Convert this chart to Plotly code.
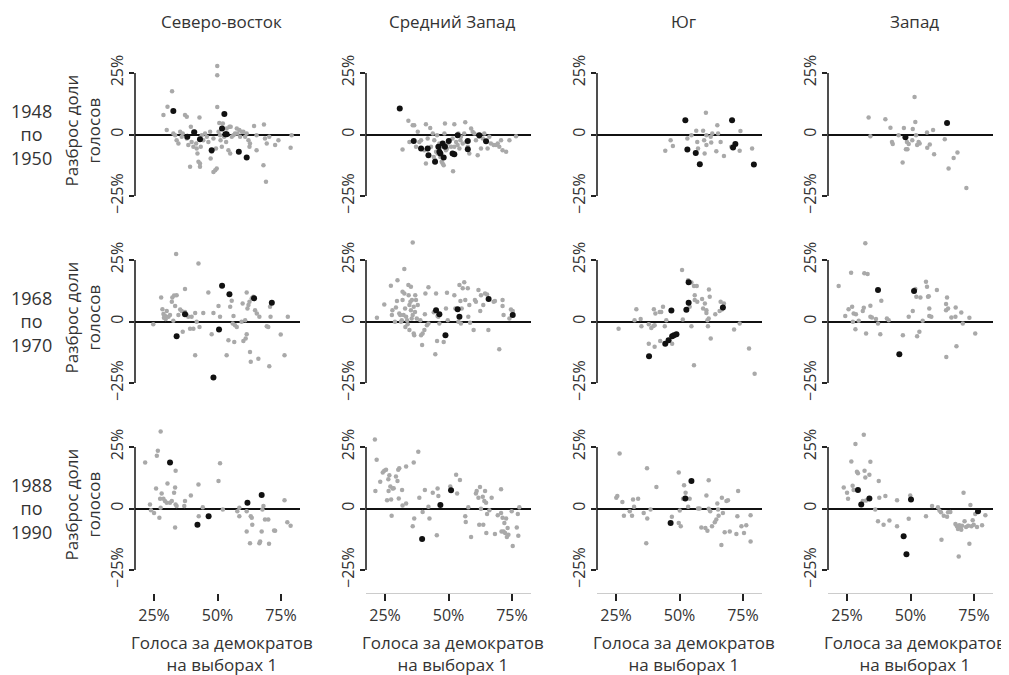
import plotly.graph_objects as go
from plotly.subplots import make_subplots

# ---------------- data (x = Dem vote share at election 1, %, y = swing, %) ----------------
regions = ["Северо-восток", "Средний Запад", "Юг", "Запад"]
periods = ["1948<br>по<br>1950", "1968<br>по<br>1970", "1988<br>по<br>1990"]
x_ticks = [25, 50, 75]
x_tick_text = ["25%", "50%", "75%"]
y_ticks = [-25, 0, 25]
y_tick_text = ["−25%", "0", "25%"]

ne48_gray = [(28.7,7.9),(30.3,11.3),(32.1,17.6),(30.0,1.8),(32.6,0.4),(33.3,-0.3),(33.9,-2.3),(34.6,-3.7),(35.3,1.1),(35.9,-0.9),(36.3,0.4),(37.2,7.9),(37.9,7.2),(37.9,-1.6),(38.5,-4.3),(39.2,-13.1),(39.5,3.1),(39.8,-3.0),(40.5,-5.0),(41.2,1.1),(41.6,-3.7),(41.8,-5.7),(42.1,-7.7),(42.5,-11.1),(42.9,6.9),(43.1,-11.8),(43.1,-13.1),(43.4,-5.0),(43.8,-0.3),(44.4,-2.3),(45.1,0.4),(45.8,-0.9),(46.4,-3.0),(47.1,1.1),(47.3,-9.8),(47.7,-7.0),(48.4,-1.6),(48.4,-15.2),(49.1,-14.5),(49.7,-13.8),(49.4,-5.7),(49.9,27.8),(49.9,24.1),(49.9,11.2),(50.4,1.1),(50.7,4.7),(51.0,-0.3),(51.2,-2.3),(51.7,-5.0),(52.1,4.5),(52.6,-0.9),(53.4,-3.0),(53.6,2.4),(54.3,-6.4),(54.7,3.1),(55.0,-7.7),(55.2,3.1),(55.6,-0.9),(56.3,-0.3),(56.9,0.4),(57.6,2.4),(57.8,0.4),(58.6,1.8),(58.9,-0.9),(59.5,1.1),(60.2,1.1),(60.9,-0.9),(61.5,0.4),(62.2,-2.3),(62.6,-5.0),(62.8,-3.7),(64.4,3.5),(65.4,-0.3),(65.4,-6.4),(68.1,-12.5),(68.3,4.1),(68.7,-1.6),(69.1,-19.2),(69.4,-3.7),(70.4,-0.9),(72.7,-4.3),(74.0,-2.3),(79.2,-0.3),(78.8,-5.4)]
ne48_black = [(32.6,9.5),(38.1,-0.9),(40.8,0.9),(43.1,-1.9),(47.7,-6.4),(51.8,2.4),(52.7,8.3),(53.1,0.1),(53.6,0.1),(58.4,-7.0),(61.5,-9.3)]

mw48_gray = [(31.9,-6.1),(34.2,5.6),(35.9,3.8),(36.5,3.8),(34.6,-3.0),(37.9,1.1),(37.2,-5.0),(38.5,-3.0),(39.2,-2.3),(40.5,-6.4),(41.1,4.2),(41.1,-11.8),(41.8,-1.6),(42.8,2.6),(43.1,-5.0),(43.8,0.4),(44.2,-9.1),(44.4,-2.3),(44.7,-10.4),(45.1,-7.0),(45.5,-0.3),(45.7,-7.7),(46.4,-3.7),(46.8,-9.1),(47.0,-5.0),(47.3,-11.1),(47.7,-11.8),(48.1,-12.5),(48.4,0.4),(48.6,4.5),(49.0,-6.4),(49.4,-5.7),(49.7,-3.7),(50.3,-2.3),(51.0,-5.0),(51.6,-1.6),(51.8,-14.9),(52.3,4.2),(52.3,-5.0),(53.0,-3.0),(53.6,-4.3),(53.9,0.4),(54.3,-5.7),(54.7,-2.3),(54.9,-0.9),(55.6,-3.7),(56.2,0.4),(56.6,5.0),(56.9,-3.0),(57.6,-5.0),(58.2,-7.7),(58.9,2.4),(59.5,1.1),(60.2,0.4),(60.8,-2.3),(61.5,-8.4),(62.1,-0.9),(62.8,-5.7),(63.5,-1.6),(64.1,0.4),(65.4,-5.7),(66.1,-0.9),(66.7,-3.7),(67.8,-4.3),(68.7,-4.3),(69.4,-3.7),(70.0,-5.0),(70.7,-2.3),(71.3,-6.4),(72.7,-7.0),(74.0,-2.3),(76.6,-0.7)]
mw48_black = [(30.8,10.6),(36.3,-2.6),(39.2,-5.7),(41.8,-5.7),(42.1,-8.4),(44.7,-11.1),(46.0,-5.0),(46.4,-7.0),(46.8,-7.7),(47.7,-3.7),(48.1,-9.3),(48.6,-5.0),(50.1,-2.6),(51.6,-7.7),(52.3,-8.0),(53.6,-0.3),(57.6,-2.6),(57.6,-6.0),(62.1,-0.3),(64.8,-2.7)]

so48_gray = [(44.4,-6.6),(46.5,-2.3),(47.4,-4.7),(53.1,-1.6),(54.7,-0.3),(56.6,1.5),(57.0,-3.0),(57.3,-5.7),(59.3,1.5),(59.7,-2.3),(59.9,-7.7),(60.4,8.8),(60.6,-0.3),(60.6,-4.3),(62.3,-0.9),(62.5,-3.3),(62.9,0.4),(64.5,-6.8),(64.9,3.8),(65.2,0.4),(66.2,-3.0),(67.5,-8.7),(70.4,-5.0),(73.7,-6.6),(74.0,1.4),(78.6,-5.7)]
so48_black = [(52.3,5.8),(53.1,-6.1),(56.4,-7.5),(58.0,-12.1),(70.7,5.8),(71.1,-5.3),(72.0,-3.9),(79.3,-12.2)]

we48_gray = [(33.5,6.9),(34.2,-0.7),(40.1,6.2),(42.1,2.7),(42.7,-3.0),(43.0,-3.9),(45.3,-0.3),(46.9,-11.4),(47.4,2.6),(48.2,-6.0),(48.6,-3.0),(48.8,-6.0),(49.3,-3.9),(50.7,-2.3),(50.9,2.2),(51.6,15.2),(51.9,5.1),(52.2,-0.3),(52.6,-4.3),(53.2,-3.0),(53.6,-3.7),(56.5,0.8),(56.6,-5.4),(57.6,-4.1),(58.9,1.8),(59.3,-8.0),(63.5,-1.9),(65.0,-13.8),(67.0,-9.5),(68.5,-7.3),(72.0,-21.7)]
we48_black = [(48.0,-1.1),(64.4,4.7)]

ne68_gray = [(24.7,-1.1),(27.8,9.8),(28.3,5.0),(28.7,3.0),(28.9,1.5),(29.3,2.3),(29.6,1.0),(30.0,4.3),(30.7,1.9),(31.3,2.6),(32.0,8.0),(32.2,9.8),(32.6,0.3),(32.9,10.6),(33.3,6.3),(33.7,27.4),(33.9,10.7),(34.6,2.6),(35.3,4.9),(35.9,4.3),(36.3,-4.2),(37.2,13.2),(37.2,3.9),(37.9,2.6),(38.5,1.9),(39.2,-2.9),(39.8,1.9),(40.5,-2.9),(41.2,-13.7),(41.2,3.5),(41.8,-0.1),(42.5,23.6),(42.9,-2.2),(44.4,3.5),(46.4,11.8),(47.7,-5.2),(48.4,3.5),(50.4,6.3),(51.0,1.9),(53.6,-13.7),(54.3,-7.6),(55.0,6.0),(55.6,8.4),(56.0,-0.8),(56.3,2.2),(56.6,-8.3),(56.9,-1.5),(57.6,-2.2),(59.5,-0.1),(59.9,7.3),(60.2,-7.9),(60.9,0.5),(61.1,-6.9),(61.5,11.8),(61.5,-5.2),(61.8,5.3),(62.2,6.7),(62.6,8.0),(62.8,-12.4),(63.1,-16.4),(63.5,9.4),(64.1,10.1),(64.8,4.6),(65.5,3.3),(66.1,-15.1),(66.5,1.9),(69.4,-1.9),(70.0,-2.2),(70.4,-18.2),(70.7,6.0),(70.9,1.9),(74.9,-5.3),(76.4,-13.7),(77.7,1.9)]
ne68_black = [(33.9,-6.0),(37.2,2.9),(48.4,-22.8),(50.6,-3.3),(51.8,14.5),(54.7,11.1),(64.4,9.4),(71.4,7.6)]

mw68_gray = [(21.8,1.5),(24.7,6.9),(27.3,14.5),(27.7,2.6),(27.9,4.6),(28.9,-0.1),(29.3,5.7),(29.7,8.3),(29.9,16.8),(30.6,3.3),(31.0,2.6),(31.3,-0.1),(31.6,0.5),(31.9,12.1),(31.9,8.7),(32.3,2.6),(32.6,21.3),(32.6,11.4),(32.9,5.3),(33.0,-2.2),(33.3,1.9),(33.7,0.5),(33.9,-1.1),(34.2,14.8),(34.3,10.7),(34.6,6.7),(34.6,-3.5),(35.0,8.0),(35.2,4.6),(35.2,14.1),(35.5,1.2),(35.6,8.7),(35.9,32.1),(35.9,2.6),(36.3,6.0),(36.3,-4.9),(36.5,-5.6),(36.8,3.9),(36.9,10.7),(37.2,8.7),(37.5,1.2),(37.9,6.7),(38.9,0.5),(39.2,-5.6),(39.6,-9.6),(39.8,-4.9),(40.5,-3.5),(40.7,2.9),(40.9,11.4),(41.5,-1.5),(42.1,13.9),(42.1,-0.8),(44.2,3.8),(44.8,-13.3),(45.1,11.4),(45.5,-7.9),(45.7,2.2),(46.0,1.9),(46.4,-0.8),(48.1,-8.3),(49.0,5.3),(49.4,11.7),(49.7,0.5),(52.3,10.7),(52.7,5.3),(53.9,-0.1),(54.3,14.8),(54.7,8.3),(54.9,-0.8),(55.2,5.3),(55.6,13.5),(56.2,15.9),(56.6,8.7),(57.6,13.5),(57.8,1.9),(58.2,6.7),(58.5,-0.5),(59.9,-3.5),(60.4,8.7),(60.8,8.0),(61.8,12.8),(62.5,4.3),(62.8,10.7),(63.7,6.7),(64.4,11.4),(65.2,11.0),(65.7,-3.5),(67.8,8.0),(68.3,8.3),(70.0,-11.3),(71.3,8.7),(71.3,6.3),(71.7,2.6),(74.0,1.2),(74.6,4.9),(75.3,4.3)]
mw68_black = [(45.1,4.6),(46.4,2.9),(48.8,-5.6),(53.6,5.0),(54.3,1.9),(65.8,9.1),(75.3,2.6)]

so68_gray = [(26.0,-2.9),(32.3,0.5),(33.0,5.0),(34.7,1.0),(35.0,-1.9),(37.9,-1.1),(37.9,-9.0),(38.9,-2.6),(39.7,-1.8),(39.9,5.0),(40.2,-1.5),(40.2,-10.3),(40.5,3.3),(42.2,3.9),(42.4,-7.9),(42.8,3.9),(43.5,6.0),(44.2,-1.9),(44.8,0.5),(47.1,-9.0),(51.0,20.9),(51.3,0.8),(53.4,16.8),(54.0,6.0),(54.7,15.8),(54.7,-1.9),(55.7,-17.8),(55.7,14.4),(56.0,10.7),(56.0,8.7),(56.8,14.4),(57.0,8.0),(58.9,9.1),(59.3,5.3),(60.0,7.3),(60.6,4.6),(60.6,3.5),(61.0,0.5),(61.2,-1.9),(61.5,1.2),(61.6,13.0),(61.9,10.1),(62.3,-6.9),(64.1,2.9),(65.8,4.3),(66.2,8.0),(66.7,4.9),(67.5,7.3),(71.5,-3.3),(73.7,-0.8),(77.4,-11.0),(79.6,-21.2)]
so68_black = [(38.0,-14.1),(44.4,-9.0),(45.7,-7.6),(47.1,-6.0),(47.8,-5.6),(48.8,-5.2),(46.8,4.5),(52.7,4.8),(53.6,7.6),(53.6,15.9),(67.1,5.7)]

we68_gray = [(21.7,14.4),(24.3,2.2),(25.6,5.0),(26.6,19.8),(27.0,6.0),(27.3,-0.1),(27.6,3.3),(28.3,-3.1),(28.5,2.9),(29.6,0.3),(31.2,4.3),(31.6,5.6),(31.8,19.6),(32.2,31.8),(32.5,-4.9),(33.1,19.3),(34.2,6.4),(34.2,1.9),(34.8,1.6),(36.4,1.0),(37.2,-0.8),(38.1,-5.2),(38.5,8.4),(40.7,1.2),(41.4,0.5),(47.0,-5.6),(49.3,1.9),(50.9,4.3),(51.9,13.2),(52.3,10.1),(52.6,-6.0),(53.5,-4.2),(53.9,9.8),(54.8,0.3),(56.1,16.2),(56.5,14.1),(56.9,10.1),(57.2,10.3),(57.4,5.3),(57.4,2.2),(58.2,1.9),(60.4,12.8),(64.0,7.1),(64.0,4.6),(64.1,-14.4),(64.4,9.8),(64.8,5.3),(66.1,1.6),(67.7,1.9),(67.8,5.7),(68.1,-10.1),(70.0,3.7),(70.6,-0.8),(73.2,1.5),(75.5,-4.9)]
we68_black = [(37.2,12.8),(45.6,-13.3),(51.4,12.4)]

ne88_gray = [(21.5,18.7),(23.4,1.6),(23.8,-0.7),(25.0,-1.8),(25.8,8.1),(26.1,21.4),(26.5,23.5),(27.1,-3.8),(27.4,4.0),(27.6,0.3),(27.6,31.3),(28.0,6.1),(28.7,4.0),(29.3,3.0),(30.0,2.3),(30.3,10.2),(31.3,2.3),(32.0,3.0),(32.9,6.4),(33.3,8.5),(33.3,-7.7),(33.5,15.3),(33.5,1.6),(33.9,1.0),(36.9,1.0),(37.2,3.0),(39.5,5.3),(42.5,9.8),(42.6,-3.1),(44.2,0.5),(50.4,11.2),(51.0,18.4),(52.1,-0.4),(57.8,-1.1),(58.6,0.3),(58.6,-3.1),(61.5,-1.1),(61.5,-9.3),(62.8,-14.1),(63.1,-3.1),(63.5,-3.8),(63.7,-6.6),(66.5,-14.1),(66.8,-13.4),(67.4,-9.3),(67.7,-0.4),(68.1,1.0),(68.7,-4.5),(70.0,-4.5),(70.3,-14.3),(72.3,-8.9),(72.7,-9.0),(76.4,3.4),(77.5,-5.6),(78.8,-7.0)]
ne88_black = [(31.3,18.7),(42.1,-6.6),(46.5,-3.1),(61.8,2.3),(67.4,5.5)]

mw88_gray = [(21.0,28.0),(21.2,7.1),(21.7,19.8),(23.1,10.9),(24.1,14.6),(24.7,15.3),(25.4,15.7),(25.8,3.4),(26.3,11.9),(26.4,7.1),(26.7,13.5),(27.1,8.9),(27.4,3.7),(27.6,-2.9),(28.0,8.1),(28.4,8.2),(29.3,13.0),(29.9,11.2),(30.2,15.7),(30.4,4.1),(30.6,16.4),(31.7,7.5),(31.9,1.2),(33.3,2.0),(33.3,17.1),(35.9,-7.2),(36.3,18.7),(36.5,-4.1),(38.1,23.1),(38.5,4.4),(39.8,-1.4),(40.7,7.5),(42.1,0.7),(42.5,-4.1),(43.8,6.4),(45.4,-10.9),(45.7,8.1),(46.0,5.1),(50.7,8.9),(53.0,13.7),(53.4,6.1),(54.5,11.6),(56.6,-3.1),(56.8,-5.5),(57.8,0.5),(58.9,-11.6),(60.8,6.1),(61.1,7.1),(61.8,4.4),(62.1,-6.6),(62.4,8.7),(62.8,-0.1),(63.5,4.8),(63.7,-6.6),(64.1,3.0),(64.4,7.1),(64.8,2.3),(64.9,-10.0),(65.2,-2.2),(66.1,-0.7),(67.0,4.4),(68.3,-10.4),(69.4,-2.7),(70.7,7.8),(70.7,-1.8),(70.9,-9.3),(71.3,-3.8),(71.7,-9.3),(72.0,-5.9),(72.3,-10.0),(72.7,-4.1),(73.0,-11.6),(73.3,-7.9),(73.6,-10.7),(74.9,-1.1),(75.3,-15.2),(76.9,-7.7),(77.3,-2.2),(77.5,-11.1),(77.9,0.5)]
mw88_black = [(39.6,-12.4),(46.8,1.4),(51.0,7.4)]

so88_gray = [(25.1,4.4),(25.5,5.1),(26.4,22.4),(27.5,2.6),(28.1,-2.9),(30.4,-1.1),(31.3,-2.9),(31.7,3.7),(32.1,0.7),(33.7,4.0),(35.9,-1.8),(36.9,-14.1),(37.2,16.4),(37.3,-4.1),(38.6,-0.4),(40.9,8.7),(47.0,-3.4),(49.7,14.6),(49.7,-5.9),(50.1,-0.8),(50.5,-7.2),(51.4,4.0),(51.8,9.4),(52.4,6.4),(53.4,0.7),(54.0,4.0),(57.3,0.0),(57.9,0.0),(58.6,-7.7),(60.2,-7.9),(60.6,5.3),(61.0,-9.0),(61.5,11.5),(61.5,-0.1),(62.1,-1.1),(62.8,-7.2),(63.9,-5.6),(64.5,-4.5),(64.9,2.0),(65.2,-0.4),(65.4,-2.9),(66.5,-14.8),(66.7,4.4),(67.1,-1.8),(67.8,-9.7),(68.5,3.0),(69.1,3.4),(69.8,-9.3),(72.4,-10.4),(72.8,-3.1),(73.1,7.1),(74.4,-7.2),(75.4,-10.0),(76.3,-6.8),(78.0,-13.4),(78.0,-2.7)]
so88_black = [(46.5,-5.9),(52.3,4.1),(54.7,11.2)]

we88_gray = [(23.7,8.5),(25.0,6.4),(25.4,4.0),(26.7,19.1),(27.2,9.2),(27.6,7.5),(28.3,26.2),(28.9,14.9),(29.3,14.3),(31.2,3.0),(31.9,15.3),(32.2,12.6),(32.5,3.3),(33.8,13.7),(34.2,19.0),(31.6,30.0),(36.1,-0.4),(37.2,-5.2),(37.5,11.2),(37.7,4.4),(39.4,-6.6),(40.1,5.1),(41.7,-4.9),(44.7,3.4),(44.7,-7.2),(49.3,-4.2),(49.9,5.3),(56.1,-3.1),(58.5,1.0),(60.8,0.5),(61.4,-0.8),(62.0,-1.5),(62.2,-12.7),(63.1,-2.9),(64.4,-3.4),(64.8,-1.5),(65.7,-1.4),(67.7,-6.3),(68.3,-7.2),(68.7,-8.3),(69.0,-19.5),(69.2,-6.8),(69.6,-7.7),(70.0,-8.6),(70.3,-7.0),(70.9,6.4),(71.3,-5.2),(71.9,-7.5),(72.7,-7.0),(73.2,-14.3),(73.6,1.4),(74.0,-7.2),(74.5,-4.8),(74.9,-6.6),(75.5,-2.2),(76.2,-7.5),(78.2,-6.8),(79.5,-2.7)]
we88_black = [(29.3,7.5),(30.6,1.6),(33.8,4.1),(47.3,-11.3),(48.4,-18.6),(50.2,3.7),(76.6,-1.1)]

panels = [
    [(ne48_gray, ne48_black), (mw48_gray, mw48_black), (so48_gray, so48_black), (we48_gray, we48_black)],
    [(ne68_gray, ne68_black), (mw68_gray, mw68_black), (so68_gray, so68_black), (we68_gray, we68_black)],
    [(ne88_gray, ne88_black), (mw88_gray, mw88_black), (so88_gray, so88_black), (we88_gray, we88_black)],
]

# ---------------- layout geometry ----------------
OFF = 8                      # page body margin of the html page
W, H = 1009 - OFF, 675 - OFF
FONT = "Open Sans"
TXT = "#333333"
col_left = [135, 366, 597, 828]
col_w = 165
row_zero = [134.5, 321.5, 508.5]
half_h = 84.9
x_range = [17.5, 82.5]
y_range = [-34.5, 34.5]


def px(v):
    return (v - OFF) / W


def py(v):
    return 1 - (v - OFF) / H


fig = make_subplots(rows=3, cols=4)

for r in range(3):
    for c in range(4):
        n = r * 4 + c + 1
        gray, black = panels[r][c]
        fig.add_trace(go.Scatter(
            x=[p[0] for p in gray], y=[p[1] for p in gray], mode="markers",
            marker=dict(size=4.5, color="#a9a9a9"), hoverinfo="skip", showlegend=False),
            row=r + 1, col=c + 1)
        fig.add_trace(go.Scatter(
            x=[p[0] for p in black], y=[p[1] for p in black], mode="markers",
            marker=dict(size=6, color="#111111"), hoverinfo="skip", showlegend=False),
            row=r + 1, col=c + 1)

        xd = [px(col_left[c]), px(col_left[c] + col_w)]
        yd = [py(row_zero[r] + half_h), py(row_zero[r] - half_h)]
        xa = dict(domain=xd, range=x_range, showgrid=False, zeroline=False, fixedrange=True)
        if r == 2:
            xa.update(tickvals=x_ticks, ticktext=x_tick_text, ticks="outside", ticklen=7,
                      tickwidth=1.5, tickcolor="#222222",
                      tickfont=dict(family=FONT, size=16, color=TXT),
                      showline=(c > 0), linecolor="#cccccc", linewidth=1)
        else:
            xa.update(showticklabels=False, ticks="", showline=False)
        ya = dict(domain=yd, range=y_range, showgrid=False, fixedrange=True,
                  zeroline=True, zerolinecolor="#111111", zerolinewidth=1.6,
                  showline=False, tickvals=y_ticks, ticktext=y_tick_text,
                  ticks="outside", ticklen=5, tickwidth=1.5, tickcolor="#222222",
                  tickangle=-90, tickfont=dict(family=FONT, size=16, color=TXT))
        sfx = "" if n == 1 else str(n)
        fig.layout["xaxis" + sfx].update(xa)
        fig.layout["yaxis" + sfx].update(ya)

        # range-frame style left spine from -25% to 25%
        fig.add_shape(type="line", xref=f"x{sfx} domain", yref=f"y{sfx}",
                      x0=0, x1=0, y0=-25, y1=25,
                      line=dict(color="#222222", width=1.6))

annotations = []
for c, name in enumerate(regions):
    cx = px(col_left[c] + col_w / 2 + 4)
    annotations.append(dict(text=name, x=cx, y=py(22), xref="paper", yref="paper",
                            showarrow=False, xanchor="center", yanchor="middle",
                            font=dict(family=FONT, size=17, color=TXT)))
    annotations.append(dict(text="Голоса за демократов<br>на выборах 1", x=cx, y=py(653),
                            xref="paper", yref="paper", showarrow=False,
                            xanchor="center", yanchor="middle",
                            font=dict(family=FONT, size=17, color=TXT)))
for r, lab in enumerate(periods):
    annotations.append(dict(text=lab, x=px(31), y=py(row_zero[r]), xref="paper", yref="paper",
                            showarrow=False, xanchor="center", yanchor="middle",
                            font=dict(family=FONT, size=18, color=TXT)))
    annotations.append(dict(text="Разброс доли<br>голосов", x=px(82), y=py(row_zero[r] - 4),
                            xref="paper", yref="paper", showarrow=False, textangle=-90,
                            xanchor="center", yanchor="middle",
                            font=dict(family=FONT, size=17, color=TXT)))

fig.update_layout(width=W, height=H, autosize=False,
                  margin=dict(l=0, r=0, t=0, b=0),
                  paper_bgcolor="white", plot_bgcolor="white",
                  annotations=annotations, showlegend=False)

fig.write_html("out.html")
